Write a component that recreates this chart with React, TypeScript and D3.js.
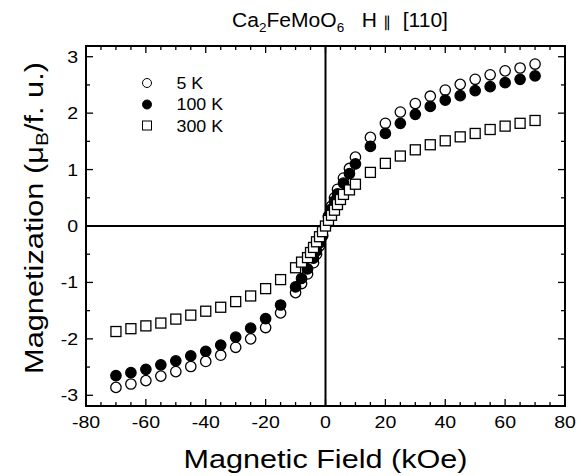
import React from "react";
import * as d3 from "d3";

const fields = [-70, -65, -60, -55, -50, -45, -40, -35, -30, -25, -20, -15, -10, -8, -6, -4, -3, -2, -1, 0, 1, 2, 3, 4, 6, 8, 10, 15, 20, 25, 30, 35, 40, 45, 50, 55, 60, 65, 70];
const m5K = [-2.86, -2.8, -2.74, -2.66, -2.58, -2.49, -2.4, -2.29, -2.15, -2.0, -1.8, -1.54, -1.18, -1.02, -0.85, -0.65, -0.5, -0.35, -0.18, 0, 0.18, 0.35, 0.5, 0.65, 0.85, 1.02, 1.22, 1.57, 1.82, 2.02, 2.17, 2.3, 2.41, 2.51, 2.6, 2.68, 2.75, 2.8, 2.87];
const m100K = [-2.65, -2.6, -2.54, -2.46, -2.39, -2.3, -2.22, -2.11, -1.97, -1.81, -1.64, -1.4, -1.08, -0.93, -0.76, -0.57, -0.44, -0.3, -0.16, 0, 0.16, 0.3, 0.44, 0.57, 0.76, 0.93, 1.1, 1.41, 1.64, 1.82, 1.98, 2.12, 2.23, 2.31, 2.4, 2.47, 2.54, 2.6, 2.66];
const fields300 = [-70, -65, -60, -55, -50, -45, -40, -35, -30, -25, -20, -15, -10, -8, -6, -5, -4, -3, -2, -1, 0, 1, 2, 3, 4, 5, 6, 8, 10, 15, 20, 25, 30, 35, 40, 45, 50, 55, 60, 65, 70];
const m300K = [-1.87, -1.82, -1.77, -1.72, -1.65, -1.58, -1.51, -1.44, -1.34, -1.24, -1.11, -0.95, -0.74, -0.64, -0.56, -0.47, -0.38, -0.28, -0.19, -0.1, 0, 0.1, 0.19, 0.28, 0.38, 0.47, 0.56, 0.64, 0.74, 0.95, 1.11, 1.24, 1.35, 1.44, 1.51, 1.58, 1.64, 1.71, 1.77, 1.82, 1.87];

const xTicks = [-80, -60, -40, -20, 0, 20, 40, 60, 80];
const yTicks = [-3, -2, -1, 0, 1, 2, 3];
const legendLabels = ["5 K", "100 K", "300 K"];

const W = 581, H = 476;
const L = 86, R = 565, T = 46, B = 406;
const FONT = "'Liberation Sans', Arial, sans-serif";

export default function App() {
  const x = d3.scaleLinear().domain([-80, 80]).range([L, R]);
  const y = d3.scaleLinear().domain([-3.19, 3.19]).range([B, T]);
  const xMinor = d3.range(-80, 80.01, 5);
  const yMinor = d3.range(-3, 3.01, 0.5);
  const major = 7, minor = 4;
  const sw = 1.3;
  const st = 1.15;
  return (
    <svg width={W} height={H} style={{ position: "absolute", left: 0, top: 0 }} fontFamily={FONT}>
      <rect x={0} y={0} width={W} height={H} fill="#fff" />
      {/* zero lines */}
      <line x1={L} x2={R} y1={y(0)} y2={y(0)} stroke="#000" strokeWidth={2} />
      <line x1={x(0)} x2={x(0)} y1={T} y2={B} stroke="#000" strokeWidth={2} />
      {/* ticks */}
      {xMinor.map((v) => {
        const len = v % 20 === 0 ? major : minor;
        return (
          <g key={"xt" + v}>
            <line x1={x(v)} x2={x(v)} y1={B} y2={B - len} stroke="#000" strokeWidth={1.3} />
            <line x1={x(v)} x2={x(v)} y1={T} y2={T + len} stroke="#000" strokeWidth={1.3} />
          </g>
        );
      })}
      {yMinor.map((v) => {
        const len = Math.abs(v % 1) < 1e-9 ? major : minor;
        return (
          <g key={"yt" + v}>
            <line x1={L} x2={L + len} y1={y(v)} y2={y(v)} stroke="#000" strokeWidth={1.3} />
            <line x1={R} x2={R - len} y1={y(v)} y2={y(v)} stroke="#000" strokeWidth={1.3} />
          </g>
        );
      })}
      {/* frame */}
      <rect x={L} y={T} width={R - L} height={B - T} fill="none" stroke="#000" strokeWidth={2} />
      {/* tick labels */}
      {xTicks.map((v) => (
        <text key={"xl" + v} transform={`translate(${x(v)},427.5) scale(${st},1)`} textAnchor="middle" fontSize={17}>
          {v}
        </text>
      ))}
      {yTicks.map((v) => (
        <text key={"yl" + v} transform={`translate(78,${y(v) + 6}) scale(${st},1)`} textAnchor="end" fontSize={17}>
          {v}
        </text>
      ))}
      {/* data */}
      {fields.map((f, i) => (
        <circle key={"a" + i} cx={x(f)} cy={y(m5K[i])} r={5.2} fill="#fff" stroke="#000" strokeWidth={sw} />
      ))}
      {fields.map((f, i) => (
        <circle key={"b" + i} cx={x(f)} cy={y(m100K[i])} r={5.2} fill="#000" stroke="#000" strokeWidth={sw} />
      ))}
      {fields300.map((f, i) => (
        <rect key={"c" + i} x={x(f) - 5} y={y(m300K[i]) - 5} width={10} height={10} fill="#fff" stroke="#000" strokeWidth={sw} />
      ))}
      {/* legend */}
      <circle cx={147} cy={83} r={4.5} fill="#fff" stroke="#000" strokeWidth={1} />
      <circle cx={147} cy={104.5} r={4.5} fill="#000" stroke="#000" strokeWidth={1} />
      <rect x={142.5} y={121} width={9} height={9} fill="#fff" stroke="#000" strokeWidth={1} />
      {legendLabels.map((t, i) => (
        <text key={t} transform={`translate(176.5,${88.5 + i * 21.6}) scale(1.08,1)`} fontSize={16.5}>
          {t}
        </text>
      ))}
      {/* titles */}
      <text transform={`translate(340,26.5) scale(1.08,1)`} textAnchor="middle" fontSize={19.5}>
        Ca<tspan fontSize={12.5} dy={5}>2</tspan>
        <tspan dy={-5}>FeMoO</tspan>
        <tspan fontSize={12.5} dy={5}>6</tspan>
        <tspan dy={-5}>{"\u00a0\u00a0\u00a0H\u00a0"}</tspan>
        <tspan fontSize={15}>{"\u2225"}</tspan>
        <tspan>{"\u00a0\u00a0[110]"}</tspan>
      </text>
      <text transform={`translate(325.5,468) scale(1.2,1)`} textAnchor="middle" fontSize={25.5}>
        Magnetic Field (kOe)
      </text>
      <text transform={`translate(43,218) rotate(-90) scale(1.23,1)`} textAnchor="middle" fontSize={25}>
        Magnetization (μ<tspan fontSize={17} dy={5}>B</tspan>
        <tspan dy={-5}>/f. u.)</tspan>
      </text>
    </svg>
  );
}
